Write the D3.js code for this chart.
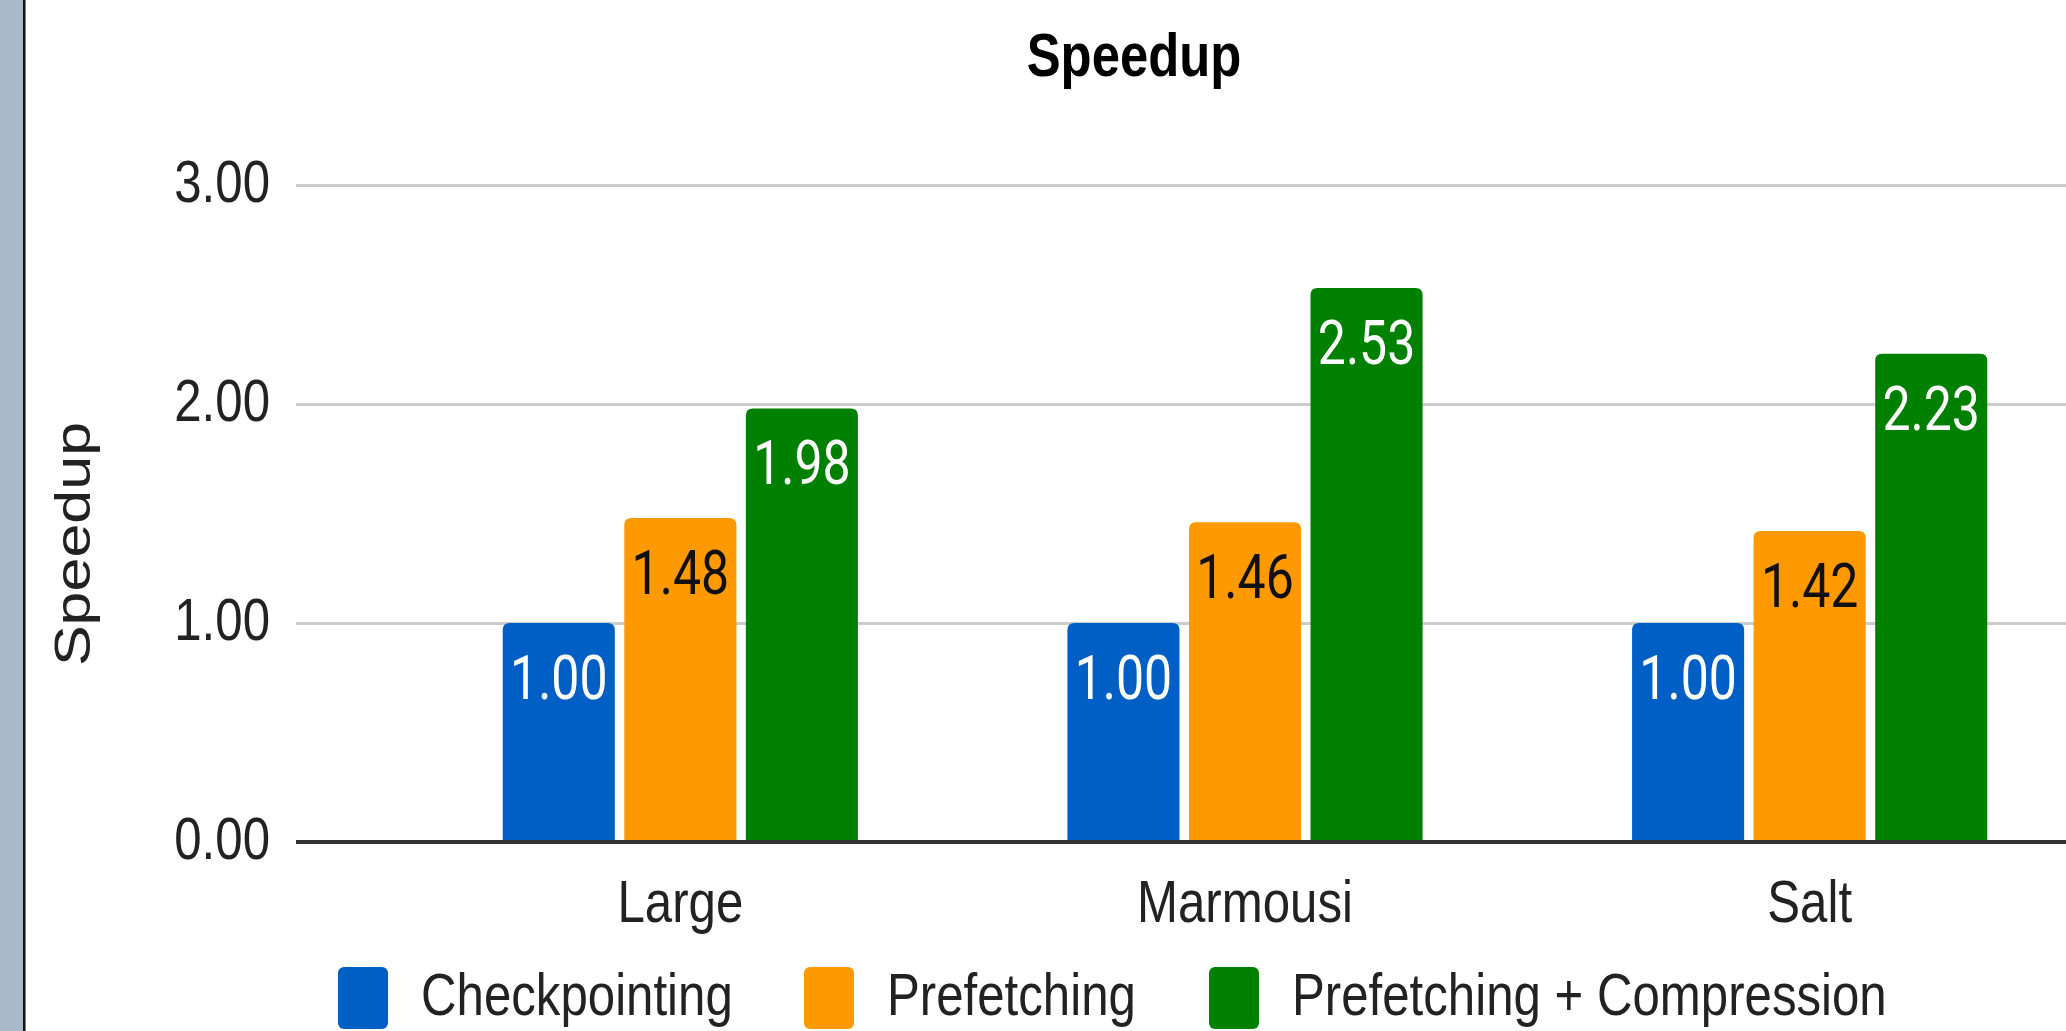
<!DOCTYPE html>
<html>
<head>
<meta charset="utf-8">
<script src="https://cdn.jsdelivr.net/npm/d3@7"></script>
<style>
  html, body { margin: 0; padding: 0; background: #ffffff; }
  svg { display: block; }
</style>
</head>
<body>
<svg id="chart" width="2066" height="1031"></svg>
<script>
// Benchmarks and the three execution strategies compared
const categories = ["Large", "Marmousi", "Salt"];
const series = ["Checkpointing", "Prefetching", "Prefetching + Compression"];
const checkpointing = [1.00, 1.00, 1.00];
const prefetching = [1.48, 1.46, 1.42];
const prefetchingCompression = [1.98, 2.53, 2.23];
const yTicks = [0, 1, 2, 3];
const colors = ["#005fc4", "#ff9900", "#008000"];
const labelColors = ["#ffffff", "#111111", "#ffffff"];

const values = [checkpointing, prefetching, prefetchingCompression];
const rows = categories.map((c, i) => ({
  category: c,
  bars: series.map((s, j) => ({ series: s, idx: j, value: values[j][i] }))
}));

const W = 2066, H = 1031;
const squeeze = 0.82;          // horizontal text compression
const sansFont = "'Liberation Sans', Arial, sans-serif";
const labelFont = "Roboto, 'Liberation Sans', sans-serif";

const svg = d3.select("#chart");

// Left side strip
svg.append("rect").attr("x", 0).attr("y", 0).attr("width", 23).attr("height", H).attr("fill", "#a9b9ca");
svg.append("rect").attr("x", 23).attr("y", 0).attr("width", 2.5).attr("height", H).attr("fill", "#111");

const gridLeft = 296, gridRight = W;
const y = d3.scaleLinear().domain([0, 3]).range([842, 185]);
const x0 = d3.scaleBand().domain(categories).range([398, 2092]).paddingInner(0.371).paddingOuter(0.1855);
const x1 = d3.scaleBand().domain(series).range([0, x0.bandwidth()]).paddingInner(0.078);

// Y axis with gridlines
const yAxis = svg.append("g")
  .attr("transform", `translate(${gridLeft},0)`)
  .call(d3.axisLeft(y).tickValues(yTicks).tickFormat(d3.format(".2f")).tickSize(-(gridRight - gridLeft)).tickPadding(0));
yAxis.select(".domain").remove();
yAxis.selectAll(".tick line").attr("stroke", "#cccccc").attr("stroke-width", 3);
yAxis.selectAll(".tick text")
  .attr("x", 0).attr("dy", null).attr("y", 16)
  .attr("transform", `translate(-26,0) scale(${squeeze},1)`)
  .attr("font-family", sansFont).attr("font-size", 60).attr("fill", "#222")
  .attr("text-anchor", "end");

// Bars
function topRounded(x, yTop, w, h, r) {
  r = Math.min(r, h, w / 2);
  return `M${x},${yTop + h}V${yTop + r}Q${x},${yTop} ${x + r},${yTop}H${x + w - r}Q${x + w},${yTop} ${x + w},${yTop + r}V${yTop + h}Z`;
}

const groups = svg.append("g").selectAll("g").data(rows).join("g")
  .attr("transform", d => `translate(${x0(d.category)},0)`);

groups.selectAll("path").data(d => d.bars).join("path")
  .attr("d", d => topRounded(x1(d.series), y(d.value), x1.bandwidth(), y(0) - y(d.value), 7))
  .attr("fill", d => colors[d.idx]);

groups.selectAll("text").data(d => d.bars).join("text")
  .attr("transform", d => `translate(${x1(d.series) + x1.bandwidth() / 2},${y(d.value) + 76}) scale(${squeeze},1)`)
  .attr("text-anchor", "middle")
  .attr("font-family", labelFont).attr("font-size", 61)
  .attr("fill", d => labelColors[d.idx])
  .text(d => d3.format(".2f")(d.value));

// Baseline
svg.append("line")
  .attr("x1", gridLeft).attr("x2", gridRight)
  .attr("y1", y(0)).attr("y2", y(0))
  .attr("stroke", "#333333").attr("stroke-width", 4);

// X axis labels
const xAxis = svg.append("g")
  .attr("transform", `translate(0,${y(0)})`)
  .call(d3.axisBottom(x0).tickSize(0).tickPadding(0));
xAxis.select(".domain").remove();
xAxis.selectAll(".tick text")
  .attr("y", 0).attr("dy", null)
  .attr("transform", `translate(0,80) scale(${squeeze},1)`)
  .attr("font-family", sansFont).attr("font-size", 60).attr("fill", "#222");

// Title
svg.append("text")
  .attr("transform", `translate(1134,76) scale(${squeeze},1)`)
  .attr("text-anchor", "middle")
  .attr("font-family", sansFont).attr("font-weight", "bold").attr("font-size", 62)
  .attr("fill", "#000")
  .text("Speedup");

// Y axis title
svg.append("text")
  .attr("transform", `translate(90,544) rotate(-90) scale(1,${squeeze})`)
  .attr("text-anchor", "middle")
  .attr("font-family", sansFont).attr("font-size", 61)
  .attr("fill", "#222")
  .text("Speedup");

// Legend
const legendX = [338, 804, 1209];
const legend = svg.append("g").selectAll("g").data(series).join("g")
  .attr("transform", (d, i) => `translate(${legendX[i]},0)`);
legend.append("rect")
  .attr("x", 0).attr("y", 967).attr("width", 50).attr("height", 62).attr("rx", 6)
  .attr("fill", (d, i) => colors[i]);
legend.append("text")
  .attr("transform", `translate(83,1015) scale(${squeeze},1)`)
  .attr("font-family", sansFont).attr("font-size", 60).attr("fill", "#222")
  .text(d => d);
</script>
</body>
</html>
